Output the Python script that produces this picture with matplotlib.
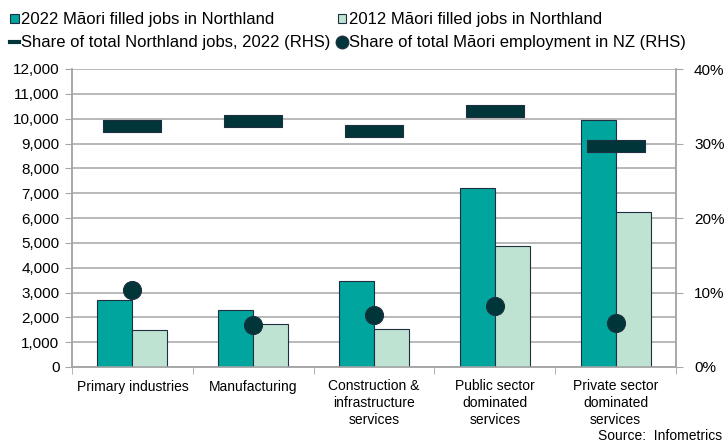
import numpy as np
import matplotlib
matplotlib.use("Agg")
import matplotlib.pyplot as plt
from matplotlib.patches import Patch
from matplotlib.lines import Line2D
from matplotlib.path import Path
from matplotlib.ticker import FuncFormatter, FixedLocator

plt.rcParams['font.family'] = ['Liberation Sans', 'DejaVu Sans']
plt.rcParams['font.size'] = 10

categories = ["Primary industries", "Manufacturing", "Construction &\ninfrastructure\nservices",
              "Public sector\ndominated\nservices", "Private sector\ndominated\nservices"]
jobs_2022 = [2700, 2300, 3450, 7200, 9950]
jobs_2012 = [1500, 1730, 1520, 4870, 6230]
share_northland = [32.4, 33.0, 31.7, 34.3, 29.6]   # % of total Northland jobs, 2022
share_nz_maori = [10.3, 5.6, 7.0, 8.2, 5.9]        # % of total Maori employment in NZ

c_dark = "#00A59E"
c_light = "#BFE3D3"
c_marker = "#00363A"
c_grid = "#A6A6A6"

W, H = 727, 447
fig = plt.figure(figsize=(W / 100, H / 100), dpi=100)
ax = fig.add_axes([72 / W, (H - 367) / H, 604 / W, 298 / H])
ax2 = ax.twinx()

x = np.arange(len(categories))
bw = 0.29
ax.bar(x - bw / 2, jobs_2022, bw, color=c_dark, edgecolor="#1F2F3F", linewidth=0.8, zorder=3)
ax.bar(x + bw / 2, jobs_2012, bw, color=c_light, edgecolor="#1F2F3F", linewidth=0.8, zorder=3)

ax.set_xlim(-0.5, len(categories) - 0.5)
ax.set_ylim(0, 12000)
ax.set_yticks(np.arange(0, 12001, 1000))
ax.yaxis.set_major_formatter(FuncFormatter(lambda v, p: f"{int(v):,}"))
ax.grid(axis="y", color=c_grid, linewidth=1.1, zorder=0)
ax.set_axisbelow(True)

ax.set_xticks(x)
ax.set_xticklabels(categories, fontsize=10, linespacing=1.25)
ax.xaxis.set_minor_locator(FixedLocator(np.arange(-0.5, len(categories), 1.0)))
ax.tick_params(axis="x", which="major", length=0, pad=9)
ax.tick_params(axis="x", which="minor", length=5, color=c_grid, direction="out")
ax.tick_params(axis="y", length=5, color=c_grid, pad=4, labelsize=11)

# wide flat marker for the share-of-Northland series
bar_mark = Path([(-0.5, -0.1), (0.5, -0.1), (0.5, 0.1), (-0.5, 0.1), (-0.5, -0.1)],
                [Path.MOVETO, Path.LINETO, Path.LINETO, Path.LINETO, Path.CLOSEPOLY])
ax2.plot(x, share_northland, linestyle="none", marker=bar_mark, markersize=42,
         markerfacecolor=c_marker, markeredgecolor="#1F2F3F", markeredgewidth=0.8, zorder=4)
ax2.plot(x, share_nz_maori, linestyle="none", marker="o", markersize=13,
         markerfacecolor=c_marker, markeredgecolor="#1F2F3F", markeredgewidth=0.8, zorder=4)
ax2.set_ylim(0, 40)
ax2.set_yticks(np.arange(0, 41, 10))
ax2.yaxis.set_major_formatter(FuncFormatter(lambda v, p: f"{int(v)}%"))
ax2.tick_params(axis="y", length=5, color=c_grid, pad=8, labelsize=11)

for a in (ax, ax2):
    a.spines["top"].set_visible(False)
    for s in ("left", "right", "bottom"):
        a.spines[s].set_color(c_grid)
        a.spines[s].set_linewidth(1.1)

handles = [
    Patch(facecolor=c_dark, edgecolor="#1F2F3F", linewidth=0.8, label="2022 Māori filled jobs in Northland"),
    Line2D([], [], color=c_marker, linewidth=3, label="Share of total Northland jobs, 2022 (RHS)"),
    Patch(facecolor=c_light, edgecolor="#1F2F3F", linewidth=0.8, label="2012 Māori filled jobs in Northland"),
    Line2D([], [], linestyle="none", marker="o", markersize=9, markerfacecolor=c_marker,
           markeredgecolor="#1F2F3F", label="Share of total Māori employment in NZ (RHS)"),
]
fig.legend(handles=handles, ncol=2, loc="upper left", bbox_to_anchor=(-0.003, 1.0),
           frameon=False, fontsize=12, handlelength=0.5, handleheight=0.5,
           handletextpad=0.15, columnspacing=0.45, labelspacing=0.45, borderaxespad=0.35)

fig.text(0.993, 0.008, "Source:  Infometrics", ha="right", va="bottom", fontsize=10)

fig.savefig("out.png", dpi=100)
